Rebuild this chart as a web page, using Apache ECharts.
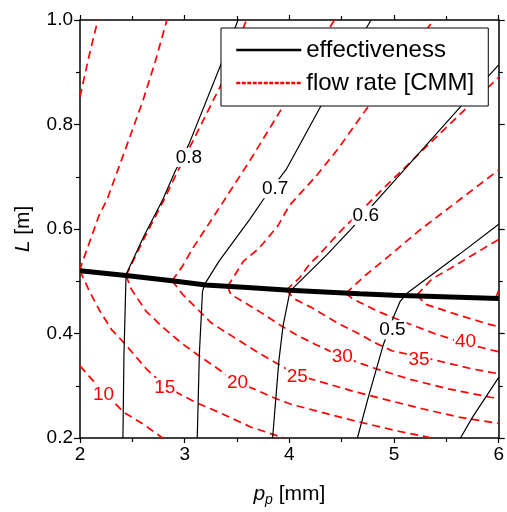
<!DOCTYPE html>
<html>
<head>
<meta charset="utf-8">
<script src="https://cdn.jsdelivr.net/npm/echarts@6/dist/echarts.min.js"></script>
<style>
  html, body { margin: 0; padding: 0; background: #fff; }
  #chart { width: 507px; height: 512px; }
</style>
</head>
<body>
<div id="chart"></div>
<script>
  // effectiveness contours [p_p, L]
  const eff08 = [[2.41,0.2],[2.42,0.36],[2.44,0.513],[2.61,0.586],[2.79,0.656],[2.91,0.711],[3.04,0.762],[3.34,0.912],[3.51,1.0]]
  const eff07 = [[3.12,0.2],[3.14,0.36],[3.17,0.48],[3.19,0.494],[3.33,0.539],[3.62,0.618],[3.75,0.656],[3.97,0.714],[4.30,0.835],[4.78,1.0]]
  const eff06 = [[3.84,0.2],[3.90,0.348],[3.94,0.415],[4.0,0.475],[4.03,0.486],[4.36,0.551],[4.60,0.602],[4.86,0.66],[5.64,0.835],[6.0,0.914]]
  const eff05 = [[4.65,0.2],[4.75,0.275],[4.90,0.38],[5.0,0.434],[5.06,0.462],[5.13,0.478],[5.62,0.551],[6.0,0.609]]
  const eff04 = [[5.635,0.2],[5.75,0.24],[6.0,0.316]]

  // thick boundary line
  const boundary = [[2,0.52],[2.44,0.511],[2.88,0.501],[3.2,0.493],[3.6,0.488],[4.0,0.483],[4.67,0.476],[5.0,0.473],[6,0.467]]

  // flow rate contours [CMM], upper / lower branch
  const flow10Up = [[2.0,0.853],[2.09,0.934],[2.17,1.0]]
  const flow10Low = [[2.0,0.338],[2.136,0.307],[2.42,0.249],[2.60,0.227],[2.79,0.2]]
  const flow15Up = [[2.0,0.52],[2.01,0.529],[2.09,0.574],[2.18,0.625],[2.26,0.657],[2.44,0.756],[2.60,0.845],[2.72,0.921],[2.83,1.0]]
  const flow15Low = [[2.0,0.52],[2.09,0.481],[2.19,0.443],[2.30,0.408],[2.43,0.38],[2.635,0.332],[2.82,0.298],[2.98,0.281],[3.14,0.265],[3.33,0.249],[3.63,0.221],[3.95,0.2]]
  const flow20Up = [[2.44,0.511],[2.62,0.585],[2.80,0.655],[2.92,0.705],[3.07,0.765],[3.37,0.885],[3.59,1.0]]
  const flow20Low = [[2.44,0.511],[2.49,0.485],[2.63,0.443],[2.79,0.412],[2.98,0.38],[3.14,0.357],[3.30,0.335],[3.50,0.306],[3.66,0.294],[3.84,0.278],[4.01,0.265],[4.31,0.249],[4.62,0.233],[5.02,0.214],[5.36,0.2]]
  const flow25Up = [[2.88,0.501],[2.98,0.529],[3.07,0.561],[3.30,0.631],[3.62,0.73],[3.92,0.828],[4.43,1.0]]
  const flow25Low = [[2.88,0.501],[2.98,0.475],[3.25,0.421],[3.31,0.413],[3.73,0.36],[4.08,0.32],[4.24,0.311],[4.62,0.289],[4.89,0.275],[5.27,0.256],[5.62,0.24],[6.0,0.228]]
  const flow30Up = [[3.41,0.49],[3.56,0.538],[3.71,0.563],[3.89,0.606],[4.0,0.645],[4.25,0.70],[4.46,0.752],[4.73,0.828],[5.38,1.0]]
  const flow30Low = [[3.41,0.49],[3.44,0.475],[3.60,0.456],[3.73,0.44],[3.92,0.415],[4.08,0.396],[4.24,0.38],[4.50,0.356],[4.79,0.335],[5.14,0.313],[5.52,0.294],[5.92,0.278],[6.0,0.276]]
  const flow35Up = [[3.97,0.483],[4.10,0.507],[4.19,0.532],[4.29,0.552],[4.49,0.596],[4.89,0.676],[5.30,0.756],[5.71,0.835],[6.0,0.89]]
  const flow35Low = [[3.97,0.483],[4.05,0.466],[4.21,0.45],[4.46,0.42],[4.67,0.399],[4.81,0.383],[4.98,0.367],[5.35,0.351],[5.75,0.332],[6.0,0.323]]
  const flow40Up = [[4.54,0.477],[4.73,0.512],[4.95,0.548],[5.24,0.597],[5.62,0.655],[6.0,0.713]]
  const flow40Low = [[4.54,0.477],[4.60,0.467],[4.67,0.46],[4.85,0.442],[5.11,0.421],[5.40,0.399],[5.68,0.381],[6.0,0.365]]
  const flow45Up = [[5.22,0.474],[5.36,0.504],[5.55,0.526],[5.84,0.561],[6.0,0.58]]
  const flow45Low = [[5.22,0.474],[5.30,0.456],[5.59,0.437],[5.90,0.418],[6.0,0.413]]
  const flow50Up = [[5.97,0.468],[6.0,0.482]]

  // contour labels
  const effLabelText = ['0.8', '0.7', '0.6', '0.5']
  const effLabelPos = [[3.04,0.737],[3.865,0.677],[4.73,0.626],[4.984,0.407]]
  const flowLabelText = ['10', '15', '20', '25', '30', '35', '40']
  const flowLabelPos = [[2.224,0.283],[2.81,0.297],[3.505,0.305],[4.076,0.318],[4.505,0.356],[5.238,0.35],[5.683,0.385]]

  const xRange = [2, 6]
  const yRange = [0.2, 1.0]

  const effCurves = [eff08, eff07, eff06, eff05, eff04]
  const flowCurves = [flow10Up, flow10Low, flow15Up, flow15Low, flow20Up, flow20Low, flow25Up, flow25Low,
    flow30Up, flow30Low, flow35Up, flow35Low, flow40Up, flow40Low, flow45Up, flow45Low, flow50Up]

  const FONT = 'Liberation Sans, Arial, sans-serif'
  const RED = '#ff0000'

  let series = []
  effCurves.forEach(c => {
    series.push({
      name: 'effectiveness', type: 'line', data: c, symbol: 'none', z: 3,
      itemStyle: {color: '#000'},
      lineStyle: {color: '#000', width: 1.2}
    })
  })
  flowCurves.forEach(c => {
    series.push({
      name: 'flow rate [CMM]', type: 'line', data: c, symbol: 'none', z: 2,
      itemStyle: {color: RED},
      lineStyle: {color: RED, width: 1.7, type: [8, 5]}
    })
  })
  series.push({
    name: 'boundary', type: 'line', data: boundary, symbol: 'none', z: 4,
    lineStyle: {color: '#000', width: 5}
  })

  function labelSeries(texts, pos, color) {
    return {
      type: 'scatter', symbolSize: 0, z: 5, silent: true,
      itemStyle: {opacity: 1},
      data: texts.map((t, i) => ({name: t, value: pos[i]})),
      label: {
        show: true, position: 'inside', formatter: '{b}', color: color, opacity: 1,
        fontSize: 19, fontFamily: FONT, backgroundColor: '#fff', padding: [0, 1]
      }
    }
  }
  series.push(labelSeries(effLabelText, effLabelPos, '#000'))
  series.push(labelSeries(flowLabelText, flowLabelPos, RED))

  const axisLine = {show: true, onZero: false, lineStyle: {color: '#000', width: 1.5}}
  const tickStyle = {color: '#000', width: 1.2}

  let option = {
    animation: false,
    textStyle: {fontFamily: FONT},
    grid: {left: 80, right: 7, top: 20, bottom: 73},
    legend: {
      left: 221, top: 28,
      orient: 'vertical',
      padding: [8, 14, 9, 14],
      itemGap: 5,
      itemWidth: 65, itemHeight: 14,
      backgroundColor: '#fff', borderColor: '#000', borderWidth: 1,
      itemStyle: {opacity: 0},
      textStyle: {fontSize: 24, color: '#000', lineHeight: 28, fontFamily: FONT},
      data: [
        {name: 'effectiveness', itemStyle: {opacity: 0}, lineStyle: {width: 2.5, color: '#000'}},
        {name: 'flow rate [CMM]', itemStyle: {opacity: 0}, lineStyle: {width: 2.5, color: RED, type: [4, 1.5]}}
      ]
    },
    xAxis: [
      {
        type: 'value', min: xRange[0], max: xRange[1], interval: 1,
        axisLine: axisLine,
        axisTick: {show: true, length: 5, lineStyle: tickStyle},
        minorTick: {show: true, splitNumber: 2, length: 4, lineStyle: tickStyle},
        splitLine: {show: false},
        axisLabel: {fontSize: 19, color: '#000', margin: 7},
        name: '{it|p}{sub|p} [mm]',
        nameLocation: 'middle', nameGap: 43,
        nameTextStyle: {
          fontSize: 21, color: '#000',
          rich: {
            it: {fontSize: 21, fontStyle: 'italic', color: '#000'},
            sub: {fontSize: 14, fontStyle: 'italic', color: '#000', padding: [12, 0, 0, 0]}
          }
        }
      },
      {
        type: 'value', position: 'top', min: xRange[0], max: xRange[1], interval: 1,
        axisLine: axisLine,
        axisTick: {show: true, length: 5, lineStyle: tickStyle},
        minorTick: {show: true, splitNumber: 2, length: 4, lineStyle: tickStyle},
        splitLine: {show: false},
        axisLabel: {show: false}
      }
    ],
    yAxis: [
      {
        type: 'value', min: yRange[0], max: yRange[1], interval: 0.2,
        axisLine: axisLine,
        axisTick: {show: true, length: 6, lineStyle: tickStyle},
        minorTick: {show: true, splitNumber: 2, length: 4, lineStyle: tickStyle},
        splitLine: {show: false},
        axisLabel: {fontSize: 19, color: '#000', margin: 7, formatter: v => v.toFixed(1)},
        name: '{it|L} [m]',
        nameLocation: 'middle', nameGap: 46,
        nameTextStyle: {
          fontSize: 21, color: '#000',
          rich: {it: {fontSize: 21, fontStyle: 'italic', color: '#000'}}
        }
      },
      {
        type: 'value', position: 'right', min: yRange[0], max: yRange[1], interval: 0.2,
        axisLine: axisLine,
        axisTick: {show: true, length: 6, lineStyle: tickStyle},
        minorTick: {show: true, splitNumber: 2, length: 4, lineStyle: tickStyle},
        splitLine: {show: false},
        axisLabel: {show: false}
      }
    ],
    series: series
  }

  let chart = echarts.init(document.getElementById('chart'))
  chart.setOption(option)
</script>
</body>
</html>
